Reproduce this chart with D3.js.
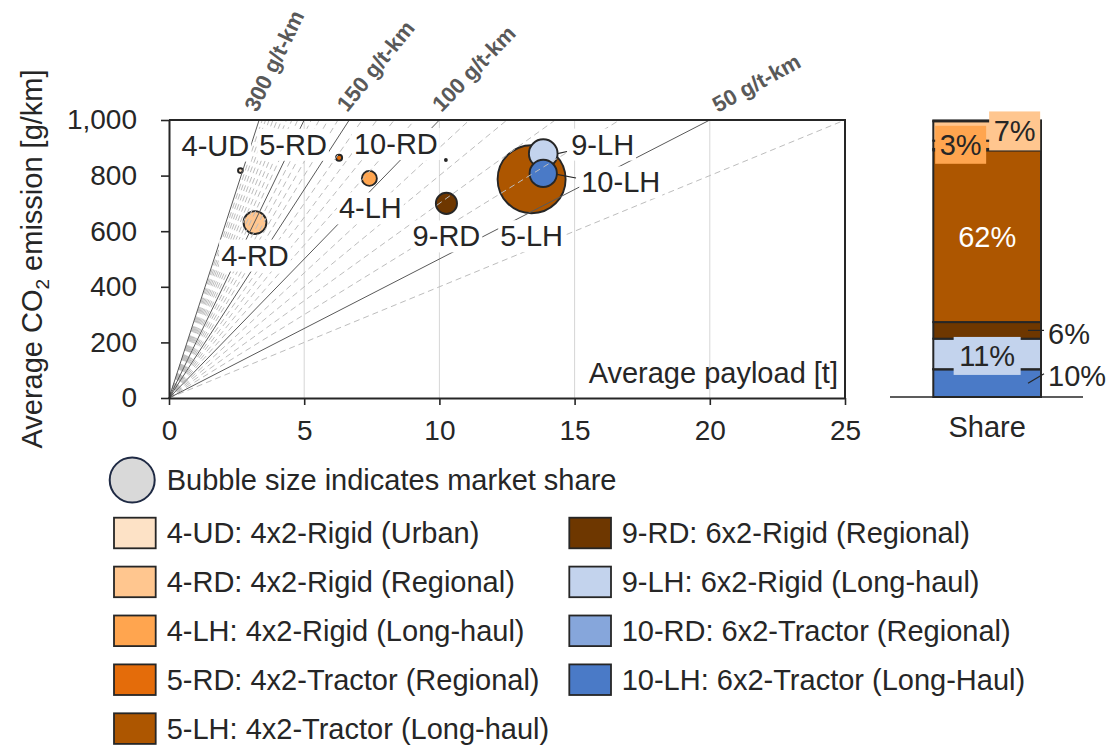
<!DOCTYPE html>
<html><head><meta charset="utf-8">
<script src="https://cdn.jsdelivr.net/npm/d3@7"></script>
<style>
body{margin:0;background:#fff;}
svg text{font-family:"Liberation Sans",Arial,Helvetica,sans-serif;}
</style></head>
<body><svg id="c" width="1108" height="747"></svg>
<script>
// ---------------- data ----------------
const codes = ["4-UD","4-RD","4-LH","5-RD","5-LH","9-RD","9-LH","10-RD","10-LH"];
const descriptions = ["4x2-Rigid (Urban)","4x2-Rigid (Regional)","4x2-Rigid (Long-haul)","4x2-Tractor (Regional)","4x2-Tractor (Long-haul)","6x2-Rigid (Regional)","6x2-Rigid (Long-haul)","6x2-Tractor (Regional)","6x2-Tractor (Long-Haul)"];
const payload  = [2.64, 3.18, 7.41, 6.29, 13.41, 10.26, 13.84, 10.24, 13.84];
const emission = [818, 631, 790, 864, 787, 700, 879, 856, 808];
const share    = [0.3, 7, 3, 0.5, 62, 6, 11, 0.05, 10];
const colors   = ["#FDE2C6","#FFC68F","#FFA54F","#E46C0A","#AD5600","#6E3700","#C3D3ED","#86A6DB","#4A7AC7"];
const dashedIntensities = [40,60,70,80,90,110,120,130,140,160,170,180,190,210,220,230,240,250,260,270,280,290];
const solidIntensities  = [50,100,150,200,300];
const labeledIntensities = [300,150,100,50];
const xTicks = [0,5,10,15,20,25];
const yTicks = [0,200,400,600,800,1000];

// ---------------- layout ----------------
const svg = d3.select("#c");
const FS = 29;
const ink = "#262626";
const x = d3.scaleLinear().domain([0,25]).range([169,845]);
const y = d3.scaleLinear().domain([0,1000]).range([398,120]);
const r = d3.scaleSqrt().domain([0,62]).range([0,34]);

// gridlines
svg.append("g").selectAll("line").data(xTicks.filter(d=>d>0&&d<25)).join("line")
  .attr("x1",d=>x(d)).attr("x2",d=>x(d)).attr("y1",y(0)).attr("y2",y(1000))
  .attr("stroke","#D6D6D6").attr("stroke-width",1);

// bubbles (largest first)
const order = d3.range(codes.length).sort((a,b)=>share[b]-share[a]);
svg.append("g").selectAll("circle").data(order).join("circle")
  .attr("cx",i=>x(payload[i])).attr("cy",i=>y(emission[i])).attr("r",i=>r(share[i]))
  .attr("fill",i=>colors[i]).attr("stroke",ink).attr("stroke-width",1.9);

// intensity lines from origin
function endPt(I){
  const px = 1000/I;
  return px<=25 ? [x(px),y(1000)] : [x(25),y(25*I)];
}
svg.append("g").selectAll("line").data(dashedIntensities).join("line")
  .attr("x1",x(0)).attr("y1",y(0))
  .attr("x2",d=>endPt(d)[0]).attr("y2",d=>endPt(d)[1])
  .attr("stroke","#BDBDBD").attr("stroke-width",1).attr("stroke-dasharray","6,4");
svg.append("g").selectAll("line").data(solidIntensities).join("line")
  .attr("x1",x(0)).attr("y1",y(0))
  .attr("x2",d=>endPt(d)[0]).attr("y2",d=>endPt(d)[1])
  .attr("stroke","#595959").attr("stroke-width",1);

// intensity labels
const intLabelLayout = {300:{dx:-2,rot:64},150:{dx:-2,rot:51},100:{dx:2,rot:46},50:{dx:8,rot:29}};
svg.append("g").selectAll("text").data(labeledIntensities).join("text")
  .attr("transform",d=>`translate(${endPt(d)[0]+intLabelLayout[d].dx},113) rotate(${-intLabelLayout[d].rot})`)
  .attr("font-size",22).attr("font-weight","bold").attr("fill","#595959")
  .text(d=>`${d} g/t-km`);

// bubble labels with white boxes
const bubbleLabelLayout = {
  "4-UD":{dx:-25,dy:-15,a:"middle"}, "4-RD":{dx:0,dy:43,a:"middle"}, "4-LH":{dx:1,dy:40,a:"middle"},
  "5-RD":{dx:-46,dy:-3,a:"middle"}, "5-LH":{dx:0,dy:67,a:"middle"}, "9-RD":{dx:0,dy:43,a:"middle"},
  "9-LH":{dx:28,dy:1,a:"start"}, "10-RD":{dx:-50,dy:-6,a:"middle"}, "10-LH":{dx:38,dy:19,a:"start"}
};
// leader lines for 9-LH and 10-LH
const leaderCodes = ["9-LH","10-LH"];
const leaderTarget = {"9-LH":[567,151.5],"10-LH":[576,178]};
svg.append("g").selectAll("line").data(leaderCodes).join("line")
  .attr("x1",c=>{const i=codes.indexOf(c);return x(payload[i])+r(share[i]);})
  .attr("y1",c=>{const i=codes.indexOf(c);return y(emission[i])+(c==="9-LH"?0:1);})
  .attr("x2",c=>leaderTarget[c][0]).attr("y2",c=>leaderTarget[c][1])
  .attr("stroke",ink).attr("stroke-width",1.2);

const lblG = svg.append("g");
codes.forEach((c,i)=>{
  const L = bubbleLabelLayout[c];
  const g = lblG.append("g");
  const t = g.append("text")
    .attr("x",x(payload[i])+L.dx).attr("y",y(emission[i])+L.dy)
    .attr("text-anchor",L.a).attr("font-size",FS).attr("fill",ink).text(c);
  const bb = t.node().getBBox();
  g.insert("rect","text").attr("x",bb.x-2).attr("y",bb.y).attr("width",bb.width+4).attr("height",bb.height)
    .attr("fill","#fff");
});

// axes
const xAxis = svg.append("g").attr("transform",`translate(0,${y(0)})`)
  .call(d3.axisBottom(x).tickValues(xTicks).tickSizeInner(7).tickSizeOuter(0).tickPadding(15));
const yAxis = svg.append("g").attr("transform",`translate(${x(0)},0)`)
  .call(d3.axisLeft(y).tickValues(yTicks).tickFormat(d3.format(",")).tickSizeInner(8).tickSizeOuter(0).tickPadding(24));
[xAxis,yAxis].forEach(a=>{
  a.select(".domain").attr("stroke",ink).attr("stroke-width",2);
  a.selectAll(".tick line").attr("stroke",ink).attr("stroke-width",1.6);
  a.selectAll(".tick text").attr("font-size",28).attr("fill",ink).attr("font-family",null);
});
// frame top/right
svg.append("path").attr("d",`M${x(0)},${y(1000)}H${x(25)}V${y(0)}`)
  .attr("fill","none").attr("stroke",ink).attr("stroke-width",2);

// axis titles
svg.append("text").attr("x",838).attr("y",383).attr("text-anchor","end")
  .attr("font-size",FS).attr("fill",ink).text("Average payload [t]");
const yt = svg.append("text").attr("transform",`translate(42,259) rotate(-90)`)
  .attr("text-anchor","middle").attr("font-size",FS).attr("fill",ink);
yt.append("tspan").text("Average CO");
yt.append("tspan").attr("font-size",19).attr("dy",7).text("2");
yt.append("tspan").attr("dy",-7).text(" emission [g/km]");

// ---------------- share bar ----------------
const bx0 = 933.3, bx1 = 1041;
const bcx = (bx0+bx1)/2;
const ys = d3.scaleLinear().domain([0,100]).range([397,120]);
const stackIdx = d3.range(codes.length).reverse();
let cum = 0;
const segs = stackIdx.map(i=>{const s={i,lo:cum,hi:cum+share[i]};cum+=share[i];return s;});
svg.append("g").selectAll("rect").data(segs).join("rect")
  .attr("x",bx0).attr("width",bx1-bx0)
  .attr("y",s=>ys(s.hi)).attr("height",s=>ys(s.lo)-ys(s.hi))
  .attr("fill",s=>colors[s.i]).attr("stroke",ink).attr("stroke-width",2);
svg.append("line").attr("x1",890).attr("x2",1083).attr("y1",397).attr("y2",397)
  .attr("stroke",ink).attr("stroke-width",1.6);
svg.append("text").attr("x",bcx).attr("y",437).attr("text-anchor","middle")
  .attr("font-size",FS).attr("fill",ink).text("Share");

const barLabelLayout = {
  "4-RD":{mode:"box",dx:27.5,dy:0,w:51,h:39},
  "4-LH":{mode:"box",dx:-26.5,dy:0,w:51,h:38},
  "5-LH":{mode:"inside",dx:0,dy:0},
  "9-RD":{mode:"leader",dy:0,ty:3.6},
  "9-LH":{mode:"box",dx:0,dy:2,w:67,h:38},
  "10-LH":{mode:"leader",dy:-9.5,ty:-8}
};
const bl = svg.append("g");
segs.forEach(s=>{
  const c = codes[s.i];
  const L = barLabelLayout[c];
  if(!L) return;
  const cy = (ys(s.lo)+ys(s.hi))/2;
  const txt = Math.round(share[s.i])+"%";
  if(L.mode==="box"){
    const tx = bcx+L.dx, ty = cy+L.dy;
    bl.append("rect").attr("x",tx-L.w/2).attr("y",ty-L.h/2).attr("width",L.w).attr("height",L.h)
      .attr("fill",colors[s.i]);
    bl.append("text").attr("x",tx).attr("y",ty+FS*0.36).attr("text-anchor","middle")
      .attr("font-size",FS).attr("fill",ink).text(txt);
  } else if(L.mode==="inside"){
    bl.append("text").attr("x",bcx).attr("y",cy+FS*0.36).attr("text-anchor","middle")
      .attr("font-size",FS).attr("fill","#fff").text(txt);
  } else {
    bl.append("line").attr("x1",bx1-13).attr("y1",cy).attr("x2",bx1+3).attr("y2",cy+L.dy)
      .attr("stroke",ink).attr("stroke-width",1.2);
    bl.append("text").attr("x",bx1+7).attr("y",cy+L.ty+FS*0.36)
      .attr("font-size",FS).attr("fill",ink).text(txt);
  }
});

// ---------------- legend ----------------
const lg = svg.append("g");
lg.append("circle").attr("cx",132.2).attr("cy",480).attr("r",22.5)
  .attr("fill","#D9D9D9").attr("stroke","#1F2A44").attr("stroke-width",2);
lg.append("text").attr("x",166.7).attr("y",480+FS*0.36).attr("font-size",FS).attr("fill",ink)
  .text("Bubble size indicates market share");
const rowStep = 48.9, row0 = 517.7, sqW = 41.7, sqH = 30.6;
codes.forEach((c,i)=>{
  const col = i<5?0:1, row = i<5?i:i-5;
  const sx = col===0?114:569.3, tx = col===0?166.7:621.7;
  const top = row0+row*rowStep;
  lg.append("rect").attr("x",sx).attr("y",top).attr("width",sqW).attr("height",sqH)
    .attr("fill",colors[i]).attr("stroke",ink).attr("stroke-width",1.8);
  lg.append("text").attr("x",tx).attr("y",top+sqH/2+FS*0.36).attr("font-size",FS).attr("fill",ink)
    .text(`${c}: ${descriptions[i]}`);
});
</script>
</body></html>
